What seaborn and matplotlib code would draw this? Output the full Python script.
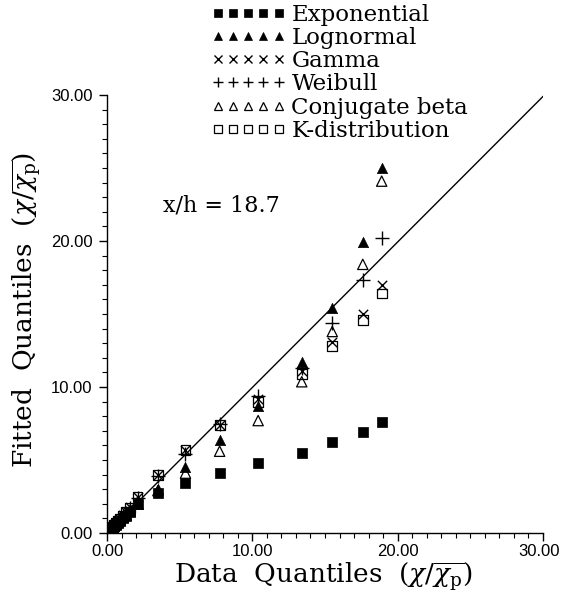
import numpy as np
import pandas as pd
import matplotlib
matplotlib.use("Agg")
import matplotlib.pyplot as plt
import matplotlib.transforms as mtransforms
from matplotlib.lines import Line2D
from matplotlib.ticker import MultipleLocator, FormatStrFormatter
import seaborn as sns

# ---- data ----
data_q = [0.05, 0.12, 0.2, 0.3, 0.4, 0.5, 0.6, 0.75, 0.9, 1.1, 1.3, 1.6,
          2.1, 3.5, 5.4, 7.75, 10.4, 13.4, 15.5, 17.6, 18.9]

exponential = [0.05, 0.12, 0.2, 0.29, 0.38, 0.47, 0.56, 0.7, 0.83, 1.0, 1.18, 1.42,
               2.0, 2.76, 3.45, 4.1, 4.8, 5.5, 6.2, 6.9, 7.6]
lognormal = [0.05, 0.12, 0.2, 0.3, 0.4, 0.5, 0.6, 0.74, 0.88, 1.07, 1.25, 1.52,
             2.0, 3.0, 4.5, 6.4, 8.7, 11.7, 15.4, 19.9, 25.0]
gamma = [0.06, 0.13, 0.22, 0.33, 0.44, 0.55, 0.66, 0.82, 0.98, 1.2, 1.42, 1.75,
         2.5, 4.0, 5.7, 7.4, 9.2, 11.1, 13.1, 15.0, 17.0]
weibull = [0.06, 0.13, 0.22, 0.32, 0.43, 0.54, 0.65, 0.81, 0.97, 1.18, 1.4, 1.72,
           2.4, 3.9, 5.4, 7.5, 9.4, 11.3, 14.4, 17.3, 20.2]
conj_beta = [0.05, 0.12, 0.21, 0.31, 0.41, 0.51, 0.61, 0.76, 0.9, 1.1, 1.3, 1.58,
             2.1, 2.9, 4.1, 5.6, 7.7, 10.36, 13.8, 18.4, 24.1]
k_dist = [0.06, 0.13, 0.22, 0.33, 0.44, 0.55, 0.66, 0.82, 0.98, 1.2, 1.42, 1.74,
          2.5, 4.0, 5.7, 7.4, 9.0, 10.9, 12.8, 14.6, 16.4]

series_names = ["Exponential", "Lognormal", "Gamma", "Weibull",
                "Conjugate beta", "K-distribution"]
series_values = [exponential, lognormal, gamma, weibull, conj_beta, k_dist]

line_x = [0.0, 30.1]
line_y = [0.0, 30.0]

x_ticks = [0, 10, 20, 30]
y_ticks = [0, 10, 20, 30]
annotation = "x/h = 18.7"

# ---- styling ----
sns.set_theme(style="ticks")
plt.rcParams["font.family"] = ["Liberation Sans", "DejaVu Sans"]
plt.rcParams["mathtext.fontset"] = "dejavuserif"
plt.rcParams["text.color"] = "black"
plt.rcParams["axes.labelcolor"] = "black"
SERIF = ["DejaVu Serif", "Liberation Serif"]

styles = {
    "Exponential": dict(marker="s", fc="black", ec="black", s=55, lw=0.5),
    "Lognormal": dict(marker="^", fc="black", ec="black", s=55, lw=0.5),
    "Gamma": dict(marker="x", fc="black", ec="black", s=45, lw=1.0),
    "Weibull": dict(marker="+", fc="black", ec="black", s=90, lw=1.0),
    "Conjugate beta": dict(marker="^", fc="none", ec="black", s=55, lw=0.9),
    "K-distribution": dict(marker="s", fc="none", ec="black", s=50, lw=0.9),
}

fig = plt.figure(figsize=(5.61, 5.94), dpi=100)
ax = fig.add_axes([107 / 561, 1 - 533 / 594, (543 - 107) / 561, (533 - 95) / 594])

# reference line
sns.lineplot(x=line_x, y=line_y, ax=ax, color="black", linewidth=1.0, zorder=1)

frames = []
for name, vals in zip(series_names, series_values):
    frames.append(pd.DataFrame({"data": data_q, "fitted": vals, "dist": name}))
df = pd.concat(frames, ignore_index=True)

for name in series_names:
    st = styles[name]
    sub = df[df["dist"] == name]
    if st["marker"] in ("x", "+"):
        sns.scatterplot(data=sub, x="data", y="fitted", ax=ax, marker=st["marker"],
                        color="black", s=st["s"], linewidth=st["lw"], zorder=3)
    else:
        sns.scatterplot(data=sub, x="data", y="fitted", ax=ax, marker=st["marker"],
                        facecolor=st["fc"], edgecolor=st["ec"], s=st["s"],
                        linewidth=st["lw"], zorder=3)

ax.set_xlim(0, 30)
ax.set_ylim(0, 30)
ax.set_xticks(x_ticks)
ax.set_yticks(y_ticks)
ax.xaxis.set_minor_locator(MultipleLocator(1))
ax.yaxis.set_minor_locator(MultipleLocator(1))
ax.xaxis.set_major_formatter(FormatStrFormatter("%.2f"))
ax.yaxis.set_major_formatter(FormatStrFormatter("%.2f"))
ax.tick_params(which="major", direction="out", length=6, width=1.0, labelsize=12,
               color="black", labelcolor="black")
ax.tick_params(which="minor", direction="out", length=3.6, width=0.8, color="black")
ax.tick_params(axis="x", which="major", pad=2)
ax.tick_params(axis="y", which="major", pad=4.5)
sns.despine(ax=ax)
for sp in ("left", "bottom"):
    ax.spines[sp].set_linewidth(1.0)
    ax.spines[sp].set_color("black")

# keep the last x tick label inside the figure
fig.canvas.draw()
last = ax.get_xticklabels()[-1]
last.set_transform(last.get_transform() +
                   mtransforms.ScaledTranslation(-4 / 100, 0, fig.dpi_scale_trans))

ax.set_xlabel(r"Data  Quantiles  $(\chi/\overline{\chi_{\rm p}})$", family=SERIF,
              fontsize=19, color="black")
ax.set_ylabel(r"Fitted  Quantiles  $(\chi/\overline{\chi_{\rm p}})$", family=SERIF,
              fontsize=19, color="black")
ax.xaxis.set_label_coords(0.495, -0.064)
ax.yaxis.set_label_coords(-0.145, 0.51)

ax.text(3.85, 22.4, annotation, family=SERIF, fontsize=16, va="center", ha="left",
        color="black")

handles = []
for name in series_names:
    st = styles[name]
    handles.append(Line2D([], [], linestyle="none", marker=st["marker"],
                          markerfacecolor=st["fc"], markeredgecolor=st["ec"],
                          color="black",
                          markersize=np.sqrt(st["s"]) * 0.8,
                          markeredgewidth=st["lw"]))
fig.legend(handles, series_names, loc="upper left",
           bbox_to_anchor=(211 / 561, 1 - 4 / 594), frameon=False,
           prop={"family": SERIF, "size": 16.5}, numpoints=5, handlelength=3.25,
           handletextpad=0.26, labelspacing=0.05, borderpad=0, borderaxespad=0,
           labelcolor="black")

fig.savefig("out.png", dpi=100, facecolor="white")
